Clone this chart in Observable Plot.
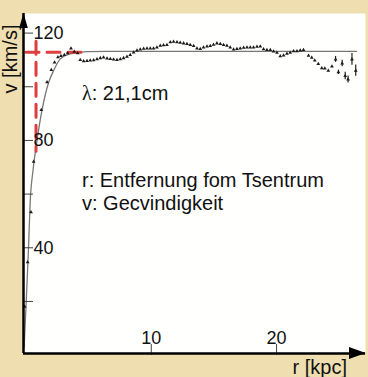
<!DOCTYPE html>
<html><head><meta charset="utf-8">
<script src="https://cdn.jsdelivr.net/npm/d3@7"></script>
<script src="https://cdn.jsdelivr.net/npm/@observablehq/plot@0.6"></script>
<style>
html,body{margin:0;padding:0;background:#efdeb0;overflow:hidden;}
#chart{width:368px;height:377px;}
</style></head><body><div id="chart"></div>
<script>
// Observed rotation velocities (r in kpc, v in km/s)
const obsR = [-0.11,0.13,0.40,0.61,1.22,1.68,2.02,2.28,2.55,2.79,3.06,3.32,3.59,3.85,4.12,
  4.33,4.60,4.87,5.13,5.40,5.67,5.93,6.19,6.47,6.73,6.99,7.26,7.53,7.79,8.06,8.32,8.59,8.86,9.12,9.39,9.66,9.92,
  10.18,10.45,10.72,10.98,11.25,11.52,11.78,12.05,12.31,12.58,12.85,13.11,13.38,13.65,13.91,14.17,14.45,14.71,14.97,
  15.24,15.51,15.77,16.04,16.30,16.57,16.84,17.10,17.37,17.64,17.90,18.16,18.44,18.70,18.96,19.23,19.50,19.76,20.03,
  20.30,20.56,20.83,21.09,21.36,21.63,21.89,22.15,
  22.55,22.81,23.05,23.33,23.61,23.85,24.13,24.42,24.71,24.94,25.24,25.48,25.71,26.02,26.32];
const obsV = [18.1,34.6,53.3,72.1,91.4,101.7,106.3,109.1,111.0,111.5,111.9,112.5,114.3,113.1,112.5,
  110.0,109.5,109.6,109.8,109.9,110.3,110.7,110.9,110.6,110.4,110.2,110.0,110.3,110.7,111.2,111.9,112.8,113.5,113.9,114.2,114.3,114.3,
  114.3,114.7,115.3,115.5,115.6,116.6,116.8,116.6,116.4,116.2,116.0,115.6,115.2,114.3,114.1,114.7,115.0,115.2,115.7,
  116.2,116.0,115.6,115.3,114.7,113.9,114.1,114.3,114.6,114.7,114.7,114.7,114.9,115.0,114.0,113.7,113.7,113.2,112.7,
  111.4,111.7,112.3,112.7,113.3,113.3,113.5,113.7,
  111.6,110.8,109.8,108.5,106.9,106.8,106.0,107.6,110.2,105.4,108.7,104.0,102.7,110.2,106.0];
// Error bars on the outermost points
const errR = [24.71,24.94,25.24,25.48,25.71,26.02,26.32];
const errV = [110.2,105.4,108.7,104.0,102.7,110.2,106.0];
const errE = [1.1,0.8,1.2,1.4,1.3,2.2,2.1];
// Model (flat) rotation curve
const modelR = [-0.15,0.02,0.2,0.34,0.56,0.88,1.28,1.8,2.2,2.74,3.54,4.87,6.5,26.4];
const modelV = [3,20,40,57.6,68.8,80,91.4,101.5,106,110.4,112.3,113.1,113.2,113.2];
// Red dashed guide lines
const guideVertR = [0.8,0.8], guideVertV = [117,76];
const guideHorR = [0.0,4.6], guideHorV = [112.9,112.9];
// Ticks
const yMajorTicks = [40,80,120];
const yMinorTicks = [20,60,100];
const xTicks = [10,20];
// Axis titles
const yTitle = "v [km/s]", xTitle = "r [kpc]";
// Annotations
const noteText = ["λ: 21,1cm","r: Entfernung fom Tsentrum","v: Gecvindigkeit"];
const noteR = [4.47,4.47,4.47];
const noteV = [97.5,65.1,56.4];

const obs = obsR.map((r,i)=>({r, v:obsV[i]}));
const err = errR.map((r,i)=>({r, v:errV[i], e:errE[i]}));
const model = modelR.map((r,i)=>({r, v:modelV[i]}));
const gV = guideVertR.map((r,i)=>({r, v:guideVertV[i]}));
const gH = guideHorR.map((r,i)=>({r, v:guideHorV[i]}));
const notes = noteText.map((t,i)=>({t, r:noteR[i], v:noteV[i]}));

const W=368,H=377,mL=23,mR=3,mT=13,mB=24;
const xDomain=[-0.2,27.1], yDomain=[0.6,127.3];
const red="#dc3f3f";
const font="'Liberation Sans', Arial, sans-serif";

const plot = Plot.plot({
  width:W, height:H, marginLeft:mL, marginRight:mR, marginTop:mT, marginBottom:mB,
  style:{background:"transparent", fontFamily:font, overflow:"visible", color:"#111"},
  x:{domain:xDomain, axis:null},
  y:{domain:yDomain, axis:null},
  marks:[
    Plot.frame({fill:"#fffffd", stroke:null}),
    Plot.line(model, {x:"r", y:"v", stroke:"#777", strokeWidth:1.3, curve:"monotone-x"}),
    Plot.line(gV, {x:"r", y:"v", stroke:red, strokeWidth:3, strokeDasharray:"13,8"}),
    Plot.line(gH, {x:"r", y:"v", stroke:red, strokeWidth:3, strokeDasharray:"13,8"}),
    Plot.ruleX(err, {x:"r", y1:d=>d.v-d.e, y2:d=>d.v+d.e, stroke:"#222", strokeWidth:1.2}),
    Plot.dot(obs, {x:"r", y:"v", symbol:"triangle", r:1.4, fill:"#1a1a1a", stroke:null}),
    Plot.tickY([...yMajorTicks,...yMinorTicks], {y:d=>d, stroke:"#444", strokeWidth:1, insetRight:W-mL-mR-10}),
    Plot.tickX(xTicks, {x:d=>d, stroke:"#444", strokeWidth:1, insetTop:H-mT-mB-9, insetBottom:-2}),
    Plot.text(yMajorTicks, {y:d=>d, text:d=>String(d), frameAnchor:"left", lineAnchor:"middle", textAnchor:"start", dx:10, fontSize:18, fill:"#111"}),
    Plot.text(xTicks, {x:d=>d, text:d=>String(d), frameAnchor:"bottom", lineAnchor:"middle", dy:-15.5, fontSize:18, fill:"#111"}),
    Plot.ruleX([xDomain[0]], {stroke:"black", strokeWidth:2.5}),
    Plot.ruleY([yDomain[0]], {stroke:"black", strokeWidth:2.5}),
    Plot.text(notes, {x:"r", y:"v", text:"t", textAnchor:"start", lineAnchor:"middle", fontSize:20, fill:"#111"})
  ]
});

const svg = d3.select(plot);
// axis arrowheads
svg.append("path").attr("d", `M${mL+0.5},${mT} L${mL-3.8},${mT+15} L${mL+4.8},${mT+15} Z`).attr("fill","black");
svg.append("path").attr("d", `M${W-2.3},${H-mB} L${W-19},${H-mB-6} L${W-19},${H-mB+6} Z`).attr("fill","black");
// axis titles
svg.append("text").attr("transform", `translate(${mL-13},${mT+46}) rotate(-90)`)
  .attr("text-anchor","middle").attr("dominant-baseline","central")
  .attr("font-family",font).attr("font-size",20).attr("fill","#111").text(yTitle);
svg.append("text").attr("x", W-mR-18).attr("y", H-mB+13.5)
  .attr("text-anchor","end").attr("dominant-baseline","central")
  .attr("font-family",font).attr("font-size",20).attr("fill","#111").text(xTitle);
// serif lambda
svg.selectAll("text").each(function(){
  const el = d3.select(this);
  if (this.childElementCount === 0 && this.textContent.startsWith("λ")) {
    const rest = this.textContent.slice(1);
    el.text(null);
    el.append("tspan").attr("font-family","'Liberation Serif', serif").text("λ");
    el.append("tspan").text(rest);
  }
});
document.getElementById("chart").appendChild(plot);
</script>
</body></html>
